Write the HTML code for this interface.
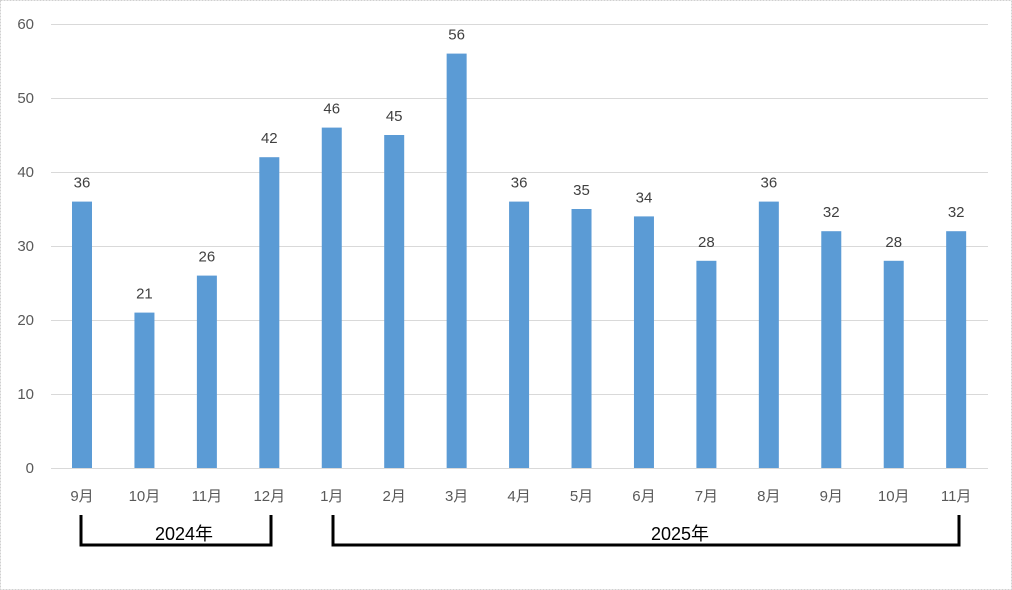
<!DOCTYPE html>
<html><head><meta charset="utf-8"><style>
html,body{margin:0;padding:0;background:#fff}
svg{display:block}
text{font-family:"Liberation Sans","Noto Sans CJK JP",sans-serif}
</style></head><body>
<svg width="1012" height="590" viewBox="0 0 1012 590">
<rect x="0.5" y="0.5" width="1011" height="589" fill="#fff" stroke="#d0d0d0" stroke-dasharray="2,1"/>
<g stroke="#d9d9d9" stroke-width="1">
<line x1="51" x2="988" y1="24.5" y2="24.5"/>
<line x1="51" x2="988" y1="98.5" y2="98.5"/>
<line x1="51" x2="988" y1="172.5" y2="172.5"/>
<line x1="51" x2="988" y1="246.5" y2="246.5"/>
<line x1="51" x2="988" y1="320.5" y2="320.5"/>
<line x1="51" x2="988" y1="394.5" y2="394.5"/>
<line x1="51" x2="988" y1="468.5" y2="468.5"/>
</g>
<g font-size="15" fill="#595959" text-anchor="end">
<text x="34" y="29">60</text><text x="34" y="103">50</text><text x="34" y="177">40</text>
<text x="34" y="251">30</text><text x="34" y="325">20</text><text x="34" y="399">10</text><text x="34" y="473">0</text>
</g>
<g id="bars" fill="#5b9bd5"></g>
<g id="vals" font-size="15" fill="#404040" text-anchor="middle"></g>
<g id="cats" font-size="15" fill="#595959" text-anchor="middle"></g>
<g stroke="#000" stroke-width="3" fill="none">
<polyline points="81,515 81,545 271,545 271,515"/>
<polyline points="333,515 333,545 959,545 959,515"/>
</g>
<g font-size="18" fill="#000" text-anchor="middle">
<text x="184" y="540">2024年</text>
<text x="680" y="540">2025年</text>
</g>
</svg>
<script>
var v=[36,21,26,42,46,45,56,36,35,34,28,36,32,28,32];
var c=["9月","10月","11月","12月","1月","2月","3月","4月","5月","6月","7月","8月","9月","10月","11月"];
var ns="http://www.w3.org/2000/svg",b=document.getElementById("bars"),t=document.getElementById("vals"),k=document.getElementById("cats");
for(var i=0;i<15;i++){var x=82+i*62.44,h=v[i]*7.4;
var r=document.createElementNS(ns,"rect");r.setAttribute("x",x-10);r.setAttribute("y",468-h);r.setAttribute("width",20);r.setAttribute("height",h);b.appendChild(r);
var a=document.createElementNS(ns,"text");a.setAttribute("x",x);a.setAttribute("y",468-h-14);a.textContent=v[i];t.appendChild(a);
var d=document.createElementNS(ns,"text");d.setAttribute("x",x);d.setAttribute("y",501);d.textContent=c[i];k.appendChild(d);}
</script>
</body></html>
